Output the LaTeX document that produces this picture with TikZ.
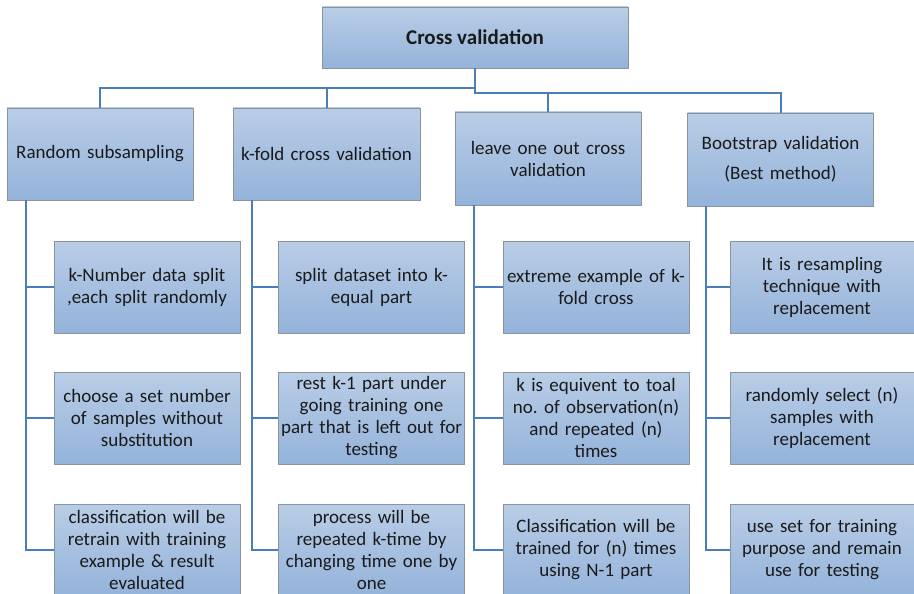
\documentclass[tikz,border=0pt]{standalone}
\usepackage{fontspec}
\setmainfont{Carlito}
\usepackage{tikz}
\usetikzlibrary{shapes,arrows}
\usepackage{xcolor}
\definecolor{boxtop}{HTML}{B9CDE6}
\definecolor{boxbot}{HTML}{94B3DA}
\definecolor{boxline}{HTML}{8A949E}
\definecolor{linkblue}{HTML}{4A7EBB}
\definecolor{txt}{HTML}{1A1A1A}

\tikzset{
  box/.style={draw=boxline,line width=0.8pt,top color=boxtop,bottom color=boxbot,
    text=txt,align=center,inner sep=1pt,font=\fontsize{19}{22}\selectfont},
  link/.style={draw=linkblue,line width=2pt}
}
\frenchspacing

\begin{document}
\begin{tikzpicture}[x=1pt,y=-1pt]
        \useasboundingbox (0,0) rectangle (914,594);
        \node[box,minimum width=306pt,minimum height=61pt,font=\bfseries\fontsize{21}{24}\selectfont] (cv) at (475,37.5) {Cross validation}; % raiz
        % metodos
        \node[box,minimum width=186pt,minimum height=92pt,text width=184pt] (rs) at (100,154) {Random subsampling};
        \node[box,minimum width=187pt,minimum height=92pt,text width=184pt] (kf) at (326.5,154) {k-fold cross validation};
        \node[box,minimum width=186pt,minimum height=93pt,text width=184pt] (loo) at (548,158.5) {leave one out cross\\ validation};
        \node[box,minimum width=186pt,minimum height=93pt,text width=184pt] (bs) at (780.5,159.5) {Bootstrap validation\\[8pt] (Best method)};
        % columna 1
        \node[box,minimum width=186pt,minimum height=92pt,text width=184pt] (rs1) at (147,287) {k-Number data split\\ ,each split randomly};
        \node[box,minimum width=186pt,minimum height=92pt,text width=184pt] (rs2) at (147,418) {choose a set number\\ of samples without\\ substitution};
        \node[box,minimum width=186pt,minimum height=92pt,text width=184pt] (rs3) at (147,550) {classification will be\\ retrain with training\\ example \& result\\ evaluated};
        % columna 2
        \node[box,minimum width=186pt,minimum height=92pt,text width=184pt] (kf1) at (371.5,287) {split dataset into k-\\ equal part};
        \node[box,minimum width=186pt,minimum height=92pt,text width=184pt] (kf2) at (371.5,418) {rest k-1 part under\\ going training one\\ part that is left out for\\ testing};
        \node[box,minimum width=186pt,minimum height=92pt,text width=184pt] (kf3) at (371.5,550) {process will be\\ repeated k-time by\\ changing time one by\\ one};
        % columna 3
        \node[box,minimum width=186pt,minimum height=92pt,text width=184pt] (loo1) at (596,287) {extreme example of k-\\ fold cross};
        \node[box,minimum width=186pt,minimum height=92pt,text width=184pt] (loo2) at (596,418) {k is equivent to toal\\ no. of observation(n)\\ and repeated (n)\\ times};
        \node[box,minimum width=186pt,minimum height=92pt,text width=184pt] (loo3) at (596,550) {Classification will be\\ trained for (n) times\\ using N-1 part};
        % columna 4
        \node[box,minimum width=184pt,minimum height=92pt,text width=182pt] (bs1) at (822,287) {It is resampling\\ technique with\\ replacement};
        \node[box,minimum width=184pt,minimum height=92pt,text width=182pt] (bs2) at (822,418) {randomly select (n)\\ samples with\\ replacement};
        \node[box,minimum width=184pt,minimum height=92pt,text width=182pt] (bs3) at (822,550) {use set for training\\ purpose and remain\\ use for testing};
        % conexiones
        \draw[link] (cv.south) -- ++(0,20) -| (rs.north);
        \draw[link] (cv.south) -- ++(0,20) -| (kf.north);
        \draw[link] (cv.south) -- ++(0,25) -| (loo.north);
        \draw[link] (cv.south) -- ++(0,25) -| (bs.north);
        \foreach \c in {rs,kf,loo,bs}
        \foreach \r in {1,2,3}
        \draw[link] ([xshift=19pt]\c.south west) |- (\c\r.west);
\end{tikzpicture}
\end{document}
